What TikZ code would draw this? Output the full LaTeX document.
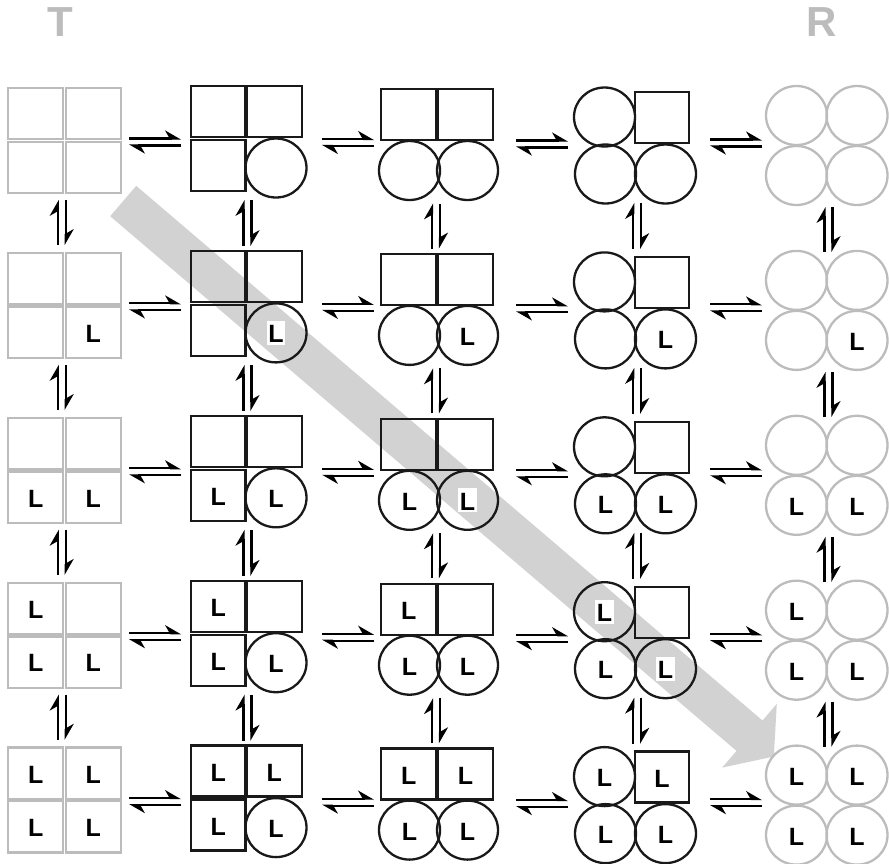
\documentclass[tikz,border=0pt]{standalone}
\usepackage{fontspec}
\setmainfont{Liberation Sans}
\usetikzlibrary{arrows.meta,calc}
\definecolor{shapegray}{RGB}{188,188,188}
\definecolor{bandgray}{RGB}{210,210,210}
\begin{document}
\begin{tikzpicture}[x=1pt,y=-1pt,
  cellbox/.style={draw=none,inner sep=0pt,outer sep=0pt,rectangle},
  blk/.style={draw=black!90,line width=2.3pt},
  gry/.style={draw=shapegray,line width=2.3pt},
  lab/.style={fill=white,inner xsep=1.5pt,inner ysep=0pt,text height=22pt,text depth=2pt,font=\fontsize{25}{25}\selectfont\bfseries},
  harp/.style={line width=2.1pt,-{Stealth[harpoon,length=14pt,width=16pt,inset=4.5pt]}},
  toplabel/.style={text=shapegray,inner sep=0pt,font=\fontsize{42}{42}\selectfont\bfseries}
]
\useasboundingbox (0,0) rectangle (889,863);
% gray band arrow
\fill[bandgray] (136.2,185.8) -- (762.5,720.5) -- (776.8,703.8) -- (773.8,756.5)
  -- (722.2,767.6) -- (736.5,750.9) -- (110.2,216.2) -- cycle;
% cells
\foreach \cl/\ccx/\ccy/\w/\h in {1/64.5/140.5/113/105, 2/248.5/141.5/116/111, 3/438.5/144.5/120/111, 4/635/146/122/116, 5/827/145.5/122/119} {
  \foreach \rw in {1,...,5} {
    \node[cellbox,minimum width=\w*1pt,minimum height=\h*1pt] (c\rw\cl) at (\ccx,{\ccy+164.9*(\rw-1)}) {};
  }
}
% shapes
\foreach \rw in {1,...,5} {
  \begin{scope}[shift={(c\rw1.center)}]
    \draw[gry] (-56.5,-52.5) rectangle (-1.2,-1.2);
    \draw[gry] (1.2,-52.5) rectangle (56.5,-1.2);
    \draw[gry] (-56.5,1.2) rectangle (-1.2,52.5);
    \draw[gry] (1.2,1.2) rectangle (56.5,52.5);
  \end{scope}
  \begin{scope}[shift={(c\rw2.center)}]
    \draw[blk] (-57.5,-55.5) rectangle (-3,-4.5);
    \draw[blk] (-1.5,-55.5) rectangle (53.5,-4.5);
    \draw[blk] (-57.5,-1.5) rectangle (-3,49.5);
    \draw[blk] (27.5,26.5) ellipse [x radius=30.5,y radius=29.5];
  \end{scope}
  \begin{scope}[shift={(c\rw3.center)}]
    \draw[blk] (-57.5,-55.5) rectangle (-2.3,-4.5);
    \draw[blk] (-0.3,-55.5) rectangle (54.5,-4.5);
    \draw[blk] (-29,26) ellipse [x radius=30.5,y radius=29.5];
    \draw[blk] (29,26) ellipse [x radius=30.5,y radius=29.5];
  \end{scope}
  \begin{scope}[shift={(c\rw4.center)}]
    \draw[blk] (-30.5,-29) ellipse [x radius=30.5,y radius=29.5];
    \draw[blk] (0,-54) rectangle (54,-3);
    \draw[blk] (-29.5,28) ellipse [x radius=30.5,y radius=29.5];
    \draw[blk] (30.5,28) ellipse [x radius=30.5,y radius=29.5];
  \end{scope}
  \begin{scope}[shift={(c\rw5.center)}]
    \draw[gry] (-30.5,-30) ellipse [x radius=30.5,y radius=29.5];
    \draw[gry] (30,-30) ellipse [x radius=30.5,y radius=29.5];
    \draw[gry] (-30.5,30) ellipse [x radius=30.5,y radius=29.5];
    \draw[gry] (30,30) ellipse [x radius=30.5,y radius=29.5];
  \end{scope}
}
% L labels
\foreach \rw in {1,...,5} {
  \foreach \cl/\ax/\ay/\bx/\by/\ex/\ey/\fx/\fy in {1/-28.75/-26.75/28.75/-26.75/-28.75/26.75/28.75/26.75, 2/-30.25/-30/25.75/-30/-30.25/24/27.5/26.5, 3/-29.75/-30/27/-30/-29/26/29/26, 4/-30.5/-29/27/-28.5/-29.5/28/30.5/28, 5/-30.5/-30/30/-30/-30.5/30/30/30} {
    \ifnum\rw>3 \node[lab] (L\rw\cl a) at ([shift={(\ax,\ay)}]c\rw\cl.center) {L};\fi
    \ifnum\rw>4 \node[lab] (L\rw\cl b) at ([shift={(\bx,\by)}]c\rw\cl.center) {L};\fi
    \ifnum\rw>2 \node[lab] (L\rw\cl c) at ([shift={(\ex,\ey)}]c\rw\cl.center) {L};\fi
    \ifnum\rw>1 \node[lab] (L\rw\cl d) at ([shift={(\fx,\fy)}]c\rw\cl.center) {L};\fi
  }
}
% horizontal equilibrium arrows
\foreach \rw in {1,...,5} {
  \foreach \p/\q/\s/\e/\dy in {1/2/8/9.5/1.5, 2/3/15.5/4.5/1, 3/4/17.5/6/-0.5, 4/5/14/4/-3} {
    \draw[harp] ($(c\rw\p.east)+(\s,\dy-3.5)$) -- ($(c\rw\p.east -| c\rw\q.west)+(-\e,\dy-3.5)$);
    \draw[harp] ($(c\rw\p.east -| c\rw\q.west)+(-\e,\dy+3.5)$) -- ($(c\rw\p.east)+(\s,\dy+3.5)$);
  }
}
% vertical equilibrium arrows
\foreach \rw/\rn in {1/2,2/3,3/4,4/5} {
  \foreach \cl/\dx/\s/\ne in {1/-2.8/7/-7.9, 2/-1/3/-4.9, 3/-2.5/3.5/-5.4, 4/2.2/-1/-3.9, 5/1.5/2/1.1} {
    \draw[harp] ($(c\rn\cl.north)+(\dx-4,\ne)$) -- ($(c\rw\cl.south)+(\dx-4,\s)$);
    \draw[harp] ($(c\rw\cl.south)+(\dx+4,\s)$) -- ($(c\rn\cl.north)+(\dx+4,\ne)$);
  }
}
% corner labels
\node[toplabel] (T) at (60,22.5) {T};
\node[toplabel] (R) at (822,22.5) {R};
\end{tikzpicture}
\end{document}
